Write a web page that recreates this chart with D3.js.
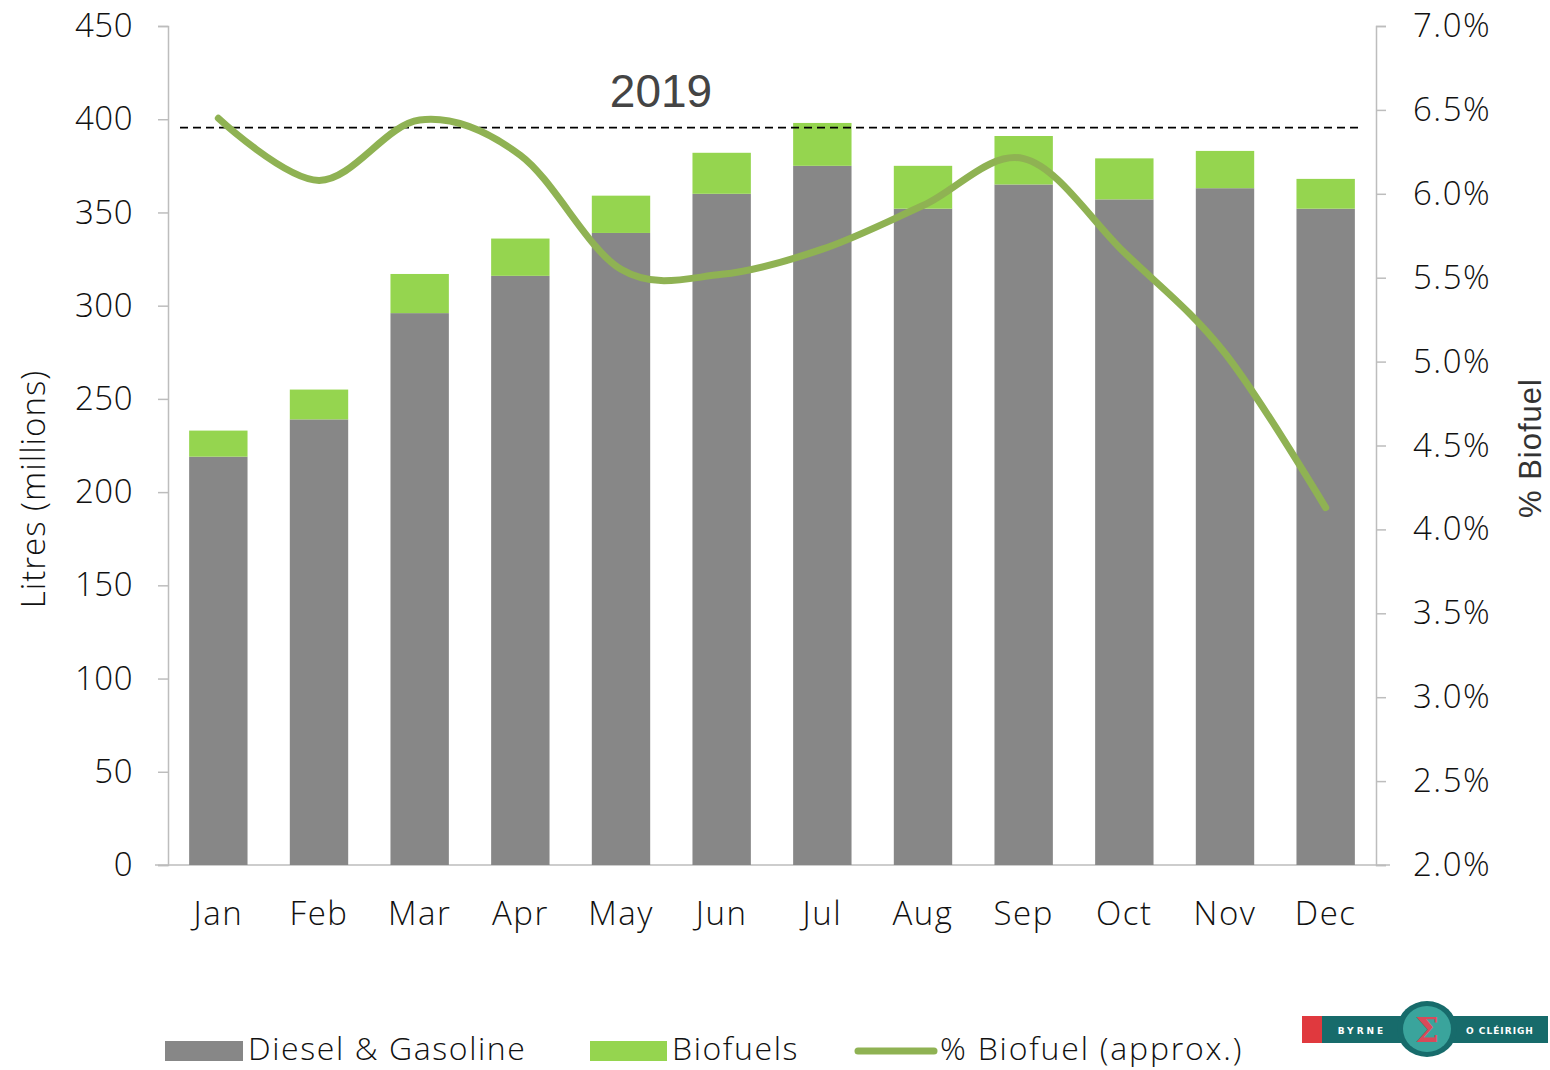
<!DOCTYPE html>
<html>
<head>
<meta charset="utf-8">
<script src="https://cdn.jsdelivr.net/npm/d3@7"></script>
<style>
  body { margin: 0; background: #fff; }
  svg text { font-family: "Open Sans", sans-serif; font-weight: 300; fill: #111; }
</style>
</head>
<body>
<svg id="chart" width="1550" height="1070"></svg>
<script>
// data
const months = ['Jan', 'Feb', 'Mar', 'Apr', 'May', 'Jun', 'Jul', 'Aug', 'Sep', 'Oct', 'Nov', 'Dec'];
const fossil = [219, 239, 296, 316, 339, 360, 375, 352, 365, 357, 363, 352];
const biofuel = [14, 16, 21, 20, 20, 22, 23, 23, 26, 22, 20, 16];
const pctBio = [0.0645, 0.0608, 0.0644, 0.0623, 0.0555, 0.0552, 0.0567, 0.0593, 0.0621, 0.0565, 0.0505, 0.0413];
const leftTicks = [0, 50, 100, 150, 200, 250, 300, 350, 400, 450];
const rightTicks = [0.02, 0.025, 0.03, 0.035, 0.04, 0.045, 0.05, 0.055, 0.06, 0.065, 0.07];
const refValue = 395.5;
const yearLabel = '2019';

const grey = '#878787', green = '#95d54f', lineGreen = '#8fb253', axisGrey = '#bdbdbd';

const svg = d3.select('#chart');
const plotLeft = 168, plotRight = 1376, plotTop = 26, plotBottom = 865;

let x = d3.scaleBand().domain(months).range([plotLeft, plotRight]).paddingInner(0.42).paddingOuter(0.21);
let yL = d3.scaleLinear().domain([0, 450]).range([plotBottom, plotTop]);
let yR = d3.scaleLinear().domain([0.02, 0.07]).range([plotBottom, plotTop]);

// axes
let gL = svg.append('g').attr('transform', 'translate(' + plotLeft + ',0)')
  .call(d3.axisLeft(yL).tickValues(leftTicks).tickSize(10).tickPadding(25));
let gR = svg.append('g').attr('transform', 'translate(' + plotRight + ',0)')
  .call(d3.axisRight(yR).tickValues(rightTicks).tickSize(10).tickPadding(27)
    .tickFormat(function(d){ return d3.format('.1f')(d * 100) + '%'; }));
[gL, gR].forEach(function(g) {
  g.selectAll('path, line').attr('stroke', axisGrey).attr('stroke-width', 1.5);
  g.selectAll('text').attr('font-size', 33).attr('fill', '#111');
});
gL.selectAll('text').attr('letter-spacing', 0.5);
gR.selectAll('text').attr('letter-spacing', 1.5);

let gB = svg.append('g').attr('transform', 'translate(0,' + plotBottom + ')')
  .call(d3.axisBottom(x).tickSize(0).tickPadding(37));
gB.select('.domain').remove();
gB.selectAll('text').attr('font-size', 33).attr('fill', '#111').attr('letter-spacing', 1.5);
svg.append('line')
  .attr('x1', 155).attr('x2', 1390).attr('y1', plotBottom).attr('y2', plotBottom)
  .attr('stroke', axisGrey).attr('stroke-width', 1.5);

// stacked bars
let bars = svg.append('g');
bars.selectAll('rect.fossil').data(months).enter().append('rect')
  .attr('class', 'fossil')
  .attr('x', function(d){ return x(d); })
  .attr('width', x.bandwidth())
  .attr('y', function(d, i){ return yL(fossil[i]); })
  .attr('height', function(d, i){ return yL(0) - yL(fossil[i]); })
  .attr('fill', grey);
bars.selectAll('rect.bio').data(months).enter().append('rect')
  .attr('class', 'bio')
  .attr('x', function(d){ return x(d); })
  .attr('width', x.bandwidth())
  .attr('y', function(d, i){ return yL(fossil[i] + biofuel[i]); })
  .attr('height', function(d, i){ return yL(fossil[i]) - yL(fossil[i] + biofuel[i]); })
  .attr('fill', green);

// reference line + year
svg.append('line')
  .attr('x1', plotLeft + 12).attr('x2', plotRight - 18)
  .attr('y1', yL(refValue)).attr('y2', yL(refValue))
  .attr('stroke', '#000').attr('stroke-width', 1.6).attr('stroke-dasharray', '8,5');
svg.append('text')
  .attr('x', 661).attr('y', 107).attr('text-anchor', 'middle')
  .style('font-family', '"Liberation Sans", Arial, sans-serif').style('font-weight', 400)
  .attr('font-size', 46).style('fill', '#444').text(yearLabel);

// % biofuel line
let line = d3.line()
  .x(function(d, i){ return x(months[i]) + x.bandwidth() / 2; })
  .y(function(d){ return yR(d); })
  .curve(d3.curveCardinal.tension(0));
svg.append('path').datum(pctBio)
  .attr('d', line).attr('fill', 'none')
  .attr('stroke', lineGreen).attr('stroke-width', 7).attr('stroke-linecap', 'round');

// axis titles
svg.append('text')
  .attr('transform', 'translate(45,489) rotate(-90)').attr('text-anchor', 'middle')
  .attr('font-size', 33).attr('letter-spacing', 1).text('Litres (millions)');
svg.append('text')
  .attr('transform', 'translate(1541,448) rotate(-90)').attr('text-anchor', 'middle')
  .style('font-family', '"Liberation Sans", Arial, sans-serif').style('font-weight', 400)
  .attr('font-size', 31).attr('letter-spacing', 1).style('fill', '#333').text('% Biofuel');

// legend
let legend = svg.append('g');
legend.append('rect').attr('x', 165).attr('y', 1041).attr('width', 78).attr('height', 20).attr('fill', grey);
legend.append('text').attr('x', 248).attr('y', 1060).attr('font-size', 32).attr('letter-spacing', 1.6).text('Diesel & Gasoline');
legend.append('rect').attr('x', 590).attr('y', 1041).attr('width', 77).attr('height', 20).attr('fill', green);
legend.append('text').attr('x', 672).attr('y', 1060).attr('font-size', 32).attr('letter-spacing', 1.6).text('Biofuels');
legend.append('line').attr('x1', 858).attr('x2', 934).attr('y1', 1051).attr('y2', 1051)
  .attr('stroke', lineGreen).attr('stroke-width', 7).attr('stroke-linecap', 'round');
legend.append('text').attr('x', 940).attr('y', 1060).attr('font-size', 32).attr('letter-spacing', 1.8).text('% Biofuel (approx.)');

// logo
let logo = svg.append('g');
logo.append('rect').attr('x', 1302).attr('y', 1016).attr('width', 20).attr('height', 27).attr('fill', '#e0393e');
logo.append('rect').attr('x', 1322).attr('y', 1016).attr('width', 226).attr('height', 27).attr('fill', '#176b6b');
logo.append('ellipse').attr('cx', 1427).attr('cy', 1029).attr('rx', 30).attr('ry', 28).attr('fill', '#176b6b');
logo.append('ellipse').attr('cx', 1427).attr('cy', 1029).attr('rx', 24).attr('ry', 23).attr('fill', '#3aa49c');
logo.append('text').attr('x', 1427).attr('y', 1042).attr('text-anchor', 'middle')
  .style('font-family', '"DejaVu Serif", serif').style('font-weight', 700)
  .attr('font-size', 34).style('fill', '#d84a5a').text('Σ');
logo.append('text').attr('x', 1362).attr('y', 1034).attr('text-anchor', 'middle')
  .style('font-family', '"DejaVu Sans", sans-serif').style('font-weight', 700)
  .attr('font-size', 9).attr('letter-spacing', 3).style('fill', '#fff').text('BYRNE');
logo.append('text').attr('x', 1500).attr('y', 1034).attr('text-anchor', 'middle')
  .style('font-family', '"DejaVu Sans", sans-serif').style('font-weight', 700)
  .attr('font-size', 9).attr('letter-spacing', 1).style('fill', '#fff').text('O CLÉIRIGH');
</script>
</body>
</html>
